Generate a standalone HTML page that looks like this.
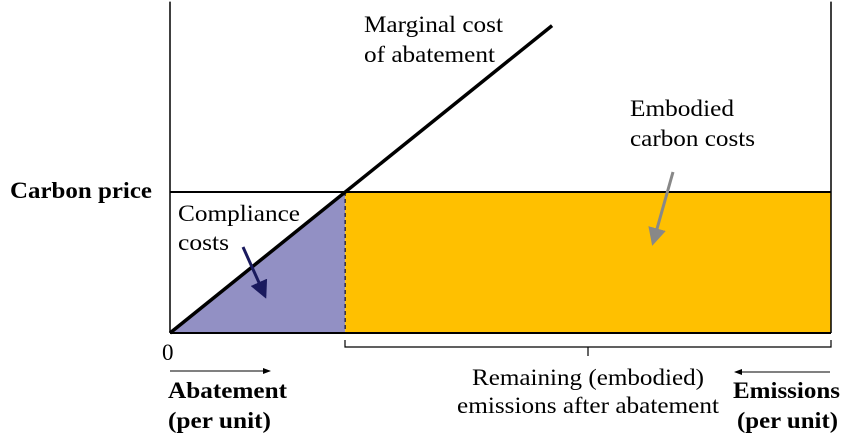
<!DOCTYPE html>
<html><head><meta charset="utf-8"><style>
html,body{margin:0;padding:0;background:#fff;width:855px;height:443px;overflow:hidden}
svg{display:block}
text{font-family:"Liberation Serif","DejaVu Serif",serif;font-size:23px}
</style></head><body>
<svg id="chart" width="855" height="443">
<defs>
<marker id="ah" markerWidth="8" markerHeight="6" refX="7" refY="3" orient="auto"><path d="M0,0 L8,3 L0,6 z" fill="#000"/></marker>
<marker id="ahn" markerWidth="6" markerHeight="6" refX="5" refY="3" orient="auto"><path d="M0,0 L6,3 L0,6 z" fill="#1a1a5e"/></marker>
<marker id="ahg" markerWidth="6" markerHeight="6" refX="5" refY="3" orient="auto"><path d="M0,0 L6,3 L0,6 z" fill="#888"/></marker>
</defs>
<g id="marks"></g>
<text x="10" y="198" font-family="Liberation Serif, serif" font-weight="bold" textLength="142" lengthAdjust="spacingAndGlyphs">Carbon price</text>
<text x="364" y="32" font-family="Liberation Serif, serif" textLength="139" lengthAdjust="spacingAndGlyphs">Marginal cost</text>
<text x="364" y="62" font-family="Liberation Serif, serif" textLength="131" lengthAdjust="spacingAndGlyphs">of abatement</text>
<text x="630" y="116" font-family="Liberation Serif, serif" textLength="104" lengthAdjust="spacingAndGlyphs">Embodied</text>
<text x="630" y="146" font-family="Liberation Serif, serif" textLength="125" lengthAdjust="spacingAndGlyphs">carbon costs</text>
<text x="178" y="221" font-family="Liberation Serif, serif" textLength="122" lengthAdjust="spacingAndGlyphs">Compliance</text>
<text x="178" y="250" font-family="Liberation Serif, serif" textLength="51" lengthAdjust="spacingAndGlyphs">costs</text>
<line x1="673" y1="172" x2="653" y2="243" stroke="#888" stroke-width="3" marker-end="url(#ahg)"/>
<line x1="243" y1="247" x2="265" y2="296" stroke="#1a1a5e" stroke-width="3" marker-end="url(#ahn)"/>
<text x="162" y="360" font-family="Liberation Serif, serif">0</text>
<path d="M345,340 V347 H831 V340 M588,347 V356" fill="none" stroke="#000" stroke-width="1.2"/>
<line x1="170" y1="371" x2="270" y2="371" stroke="#000" stroke-width="1" marker-end="url(#ah)"/>
<line x1="830" y1="372" x2="735" y2="372" stroke="#000" stroke-width="1" marker-end="url(#ah)"/>
<text x="168" y="398" font-family="Liberation Serif, serif" font-weight="bold" textLength="119" lengthAdjust="spacingAndGlyphs">Abatement</text>
<text x="168" y="428" font-family="Liberation Serif, serif" font-weight="bold" textLength="103" lengthAdjust="spacingAndGlyphs">(per unit)</text>
<text x="472" y="385" font-family="Liberation Serif, serif" textLength="232" lengthAdjust="spacingAndGlyphs">Remaining (embodied)</text>
<text x="457" y="413" font-family="Liberation Serif, serif" textLength="262" lengthAdjust="spacingAndGlyphs">emissions after abatement</text>
<text x="733" y="398" font-family="Liberation Serif, serif" font-weight="bold" textLength="107" lengthAdjust="spacingAndGlyphs">Emissions</text>
<text x="737" y="428" font-family="Liberation Serif, serif" font-weight="bold" textLength="101" lengthAdjust="spacingAndGlyphs">(per unit)</text>
</svg>
<script>
const carbonPrice = [100];
const abatementAtPrice = [26.5];
const totalEmissions = [100];
const macEnd = [57.8, 218];
const yTop = [235];

const X0=170, X1=831, Y0=333, Y100=192;
function xs(v){return X0+(X1-X0)*v/totalEmissions[0];}
function ys(v){return Y0-(Y0-Y100)*v/100;}
const NS='http://www.w3.org/2000/svg';
const g=document.getElementById('marks');
function mk(tag,attrs){const e=document.createElementNS(NS,tag);for(const k in attrs)e.setAttribute(k,attrs[k]);g.appendChild(e);return e;}
const p=carbonPrice[0], a=abatementAtPrice[0];
let e;
e=mk('polygon',{points:`${xs(0)},${ys(0)} ${xs(a)},${ys(p)} ${xs(a)},${ys(0)}`,fill:'#9290c4'});


e=mk('rect',{x:xs(a),y:ys(p),width:xs(totalEmissions[0])-xs(a),height:ys(0)-ys(p),fill:'#ffc000'});


e=mk('line',{x1:xs(a),y1:ys(p),x2:xs(a),y2:ys(0),stroke:'#1a1a3e','stroke-width':1.3,'stroke-dasharray':'4,3'});


e=mk('line',{x1:xs(0),y1:ys(p),x2:xs(totalEmissions[0]),y2:ys(p),stroke:'#000','stroke-width':2});


e=mk('line',{x1:xs(0),y1:ys(yTop[0]),x2:xs(0),y2:ys(0),stroke:'#000','stroke-width':1.5});


e=mk('line',{x1:xs(totalEmissions[0]),y1:ys(yTop[0]),x2:xs(totalEmissions[0]),y2:ys(0),stroke:'#000','stroke-width':1.5});


e=mk('line',{x1:xs(0),y1:ys(0),x2:xs(totalEmissions[0]),y2:ys(0),stroke:'#000','stroke-width':2});


e=mk('line',{x1:xs(0),y1:ys(0),x2:xs(macEnd[0]),y2:ys(macEnd[1]),stroke:'#000','stroke-width':3.5});


</script>
</body></html>
